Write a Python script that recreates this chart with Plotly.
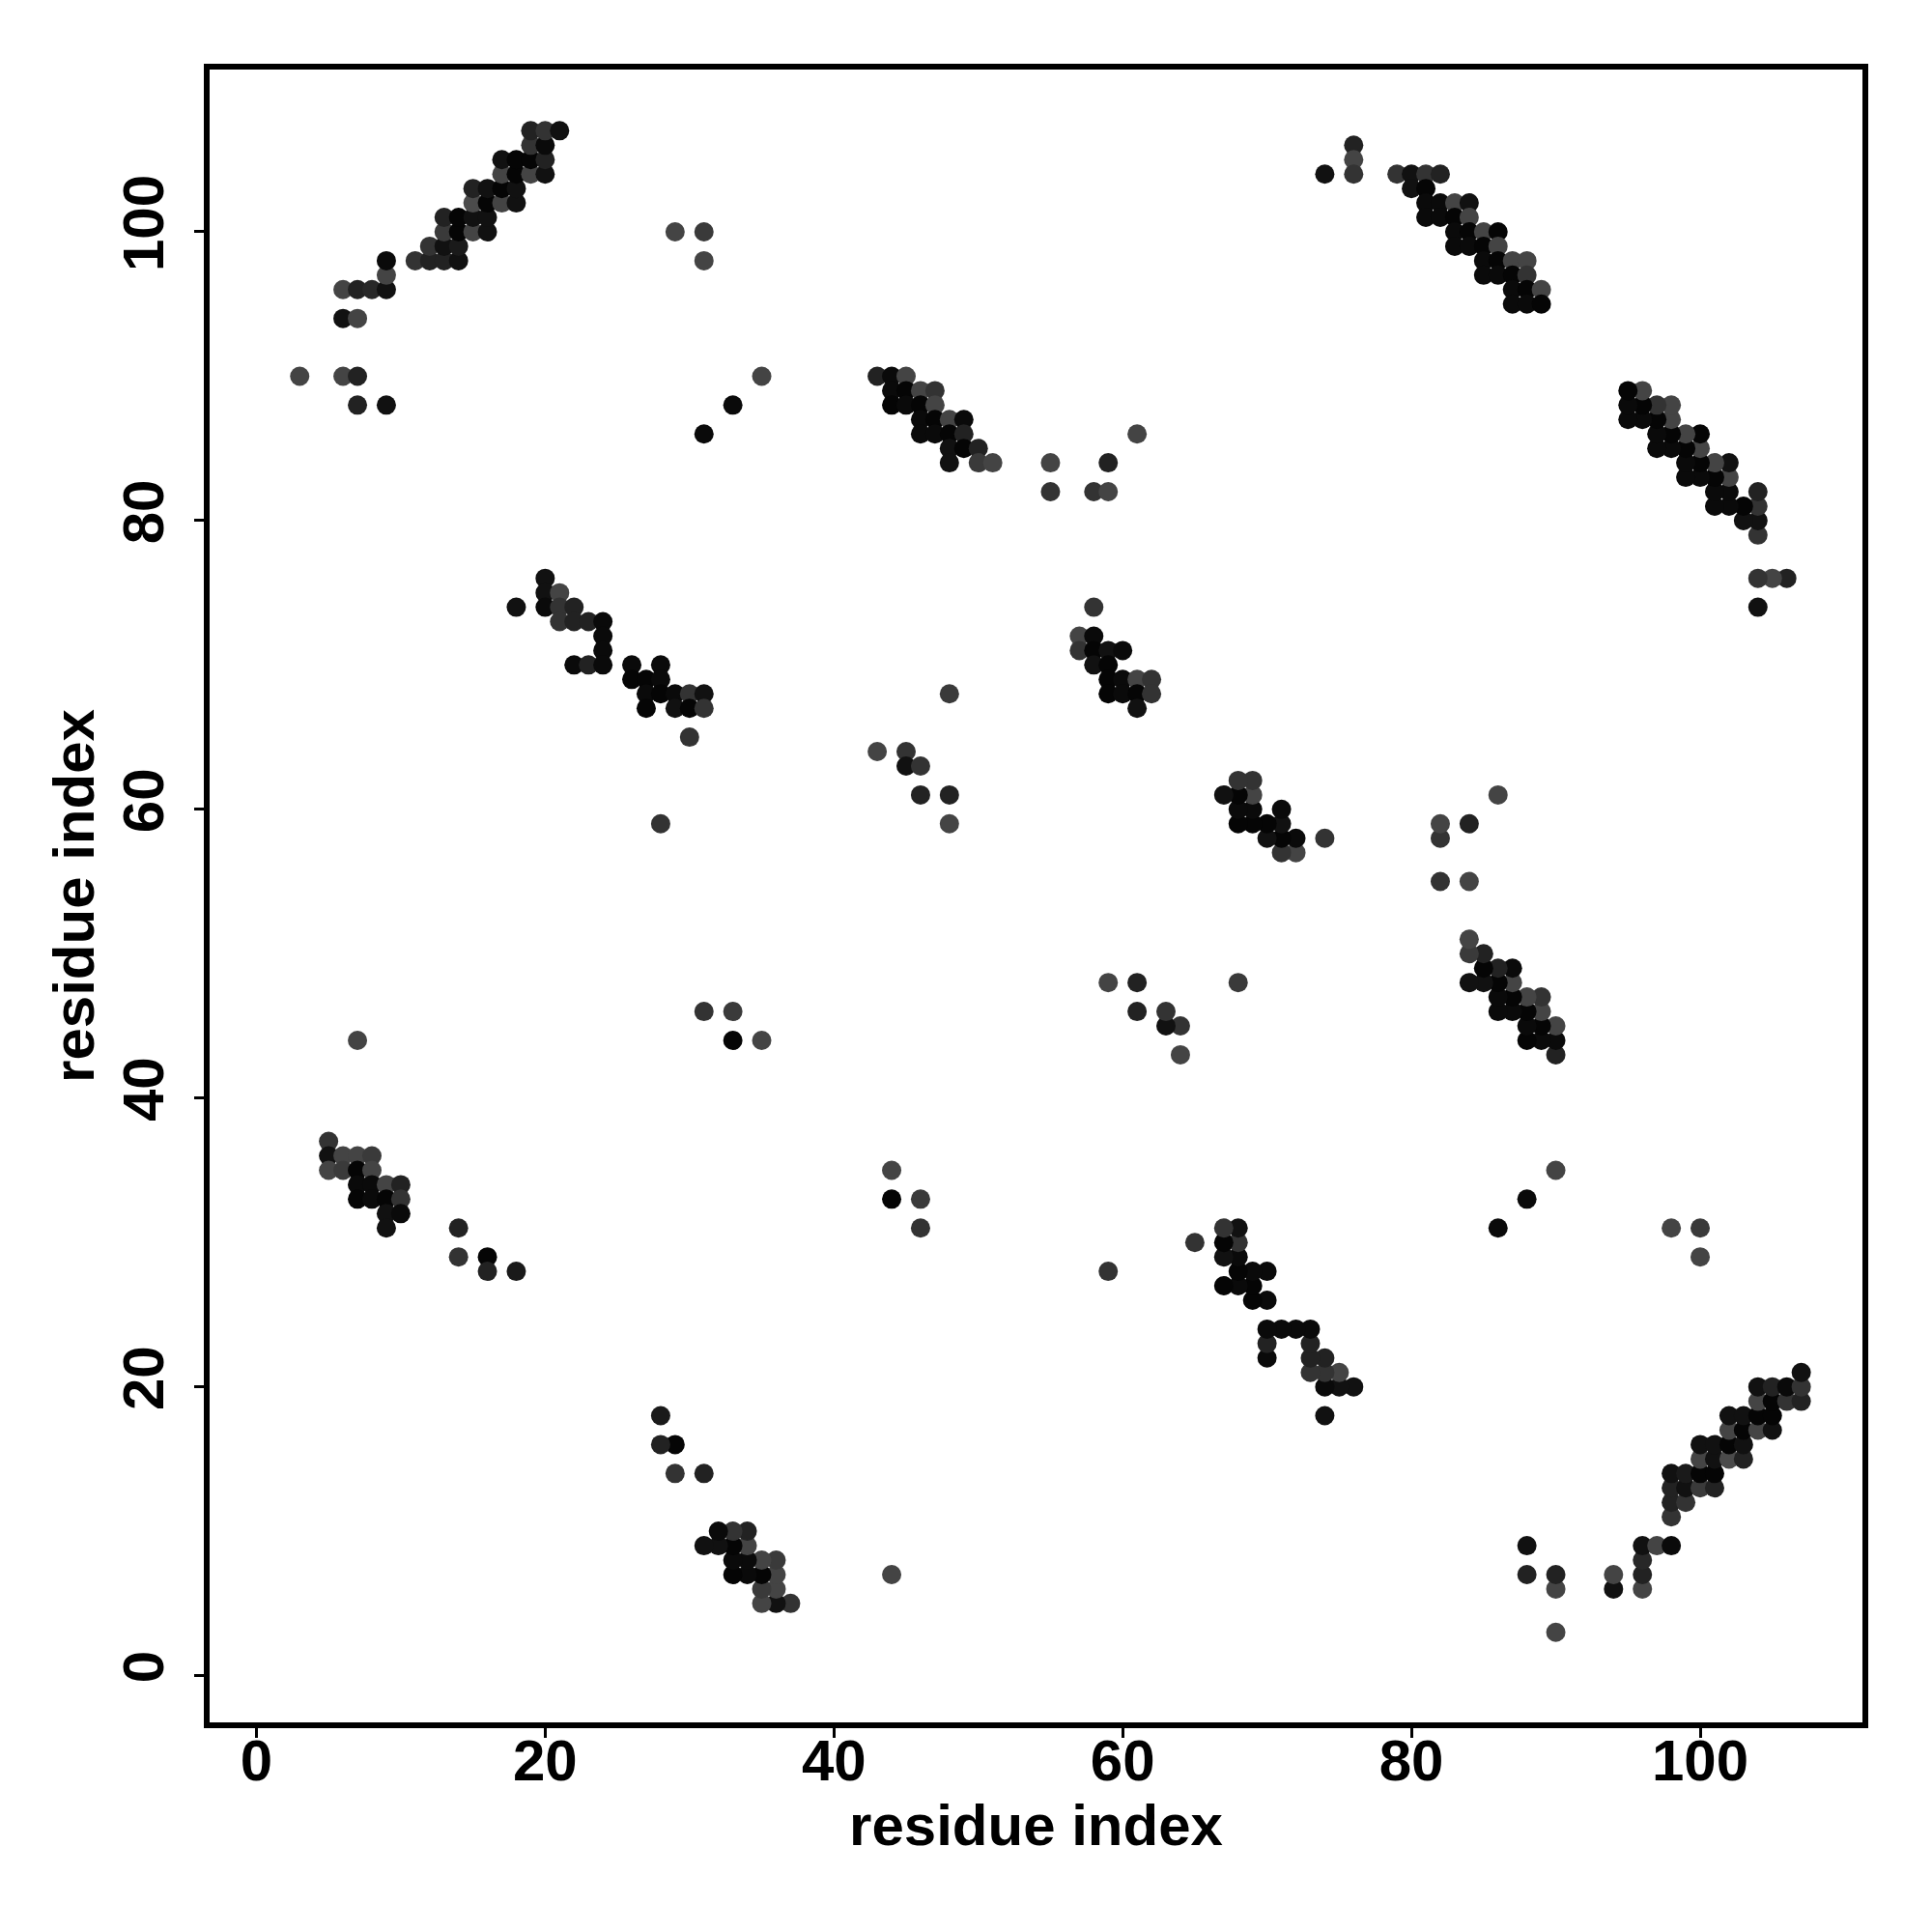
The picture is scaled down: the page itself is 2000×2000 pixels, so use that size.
import plotly.graph_objects as go

res_i = [3, 6, 7, 7, 9, 6, 7, 6, 7, 8, 9, 9, 9, 11, 12, 13, 14, 12, 13, 14, 13, 14, 15, 16,
         13, 14, 15, 16, 15, 16, 17, 18, 15, 16, 17, 18, 17, 18, 19, 20, 17, 18, 19, 20,
         19, 20, 19, 20, 21,
         29, 31, 31, 35, 33, 31,
         43, 44, 45, 44, 45, 46, 47, 44, 45, 46, 47, 46, 47, 48, 49, 46, 47, 48, 49, 48, 49, 50,
         48, 50, 51, 55, 55, 58, 59, 59, 61,
         18, 20, 20, 21, 20, 21, 22, 21, 22, 23, 24, 24, 24, 22, 23, 24, 26, 28, 26, 27, 28,
         27, 28, 29, 30, 31, 27, 29, 30, 31, 30, 28,
         58, 57, 58, 57, 58, 59, 60, 58, 59, 59, 60, 61, 62, 59, 60, 61, 62, 61, 48, 43, 45,
         45, 46, 46, 48, 48,
         7, 31, 33, 33, 35, 5, 5, 6, 7, 8, 5, 6, 7, 8, 7, 8, 9, 10, 7, 8, 9, 10, 9, 10, 9,
         14, 14, 16, 16, 18,
         74, 76, 76, 76, 79, 80, 81, 82, 80, 81, 81, 82, 83, 84, 81, 82, 83, 84, 83, 84, 85,
         86, 83, 84, 85, 86, 85, 86, 87, 88, 85, 86, 87, 88, 87, 88, 89, 87, 88, 89]
res_j = [90, 90, 90, 88, 88, 94, 94, 96, 96, 96, 96, 97, 98, 98, 98, 98, 98, 99, 99, 99, 100, 100, 100, 100,
         101, 101, 101, 101, 102, 102, 102, 102, 103, 103, 103, 103, 104, 104, 104, 104, 105, 105, 105, 105,
         106, 106, 107, 107, 107,
         100, 100, 98, 90, 88, 86,
         90, 90, 90, 89, 89, 89, 89, 88, 88, 88, 88, 87, 87, 87, 87, 86, 86, 86, 86, 85, 85, 85,
         84, 84, 84, 84, 82, 82, 82, 84, 86,
         74, 76, 75, 75, 74, 74, 74, 73, 73, 73, 73, 72, 71, 70, 70, 70, 70, 70, 69, 69, 69,
         68, 68, 68, 68, 68, 67, 67, 67, 67, 65, 59,
         74, 72, 72, 71, 71, 71, 71, 70, 70, 69, 69, 69, 69, 68, 68, 68, 68, 67, 68, 64, 64,
         63, 63, 61, 61, 59,
         44, 46, 46, 44, 44, 37, 36, 36, 36, 36, 35, 35, 35, 35, 34, 34, 34, 34, 33, 33, 33, 33, 32, 32, 31,
         31, 29, 29, 28, 28,
         104, 106, 105, 104, 104, 104, 104, 104, 103, 103, 102, 102, 102, 102, 101, 101, 101, 101, 100, 100, 100,
         100, 99, 99, 99, 99, 98, 98, 98, 98, 97, 97, 97, 97, 96, 96, 96, 95, 95, 95]
# grey level of each contact (0 = black, larger = lighter)
shade = [68, 68, 34, 34, 17, 17, 68, 68, 34, 40, 17, 68, 10, 51, 34, 34, 17, 51, 17, 26, 58, 5, 68, 17,
         34, 5, 17, 17, 75, 5, 68, 17, 34, 17, 5, 17, 68, 5, 68, 17, 17, 5, 5, 34,
         51, 10, 34, 51, 17,
         68, 58, 68, 68, 10, 10,
         34, 10, 68, 10, 5, 68, 51, 5, 10, 5, 68, 10, 5, 68, 10, 10, 10, 5, 34, 17, 5, 34,
         17, 58, 68, 68, 51, 51, 68, 34, 68,
         17, 17, 17, 68, 10, 51, 34, 51, 34, 34, 10, 10, 10, 10, 34, 10, 10, 10, 5, 5, 10,
         10, 5, 10, 51, 17, 5, 17, 5, 51, 51, 51,
         51, 68, 10, 51, 5, 17, 10, 17, 5, 5, 10, 68, 51, 5, 10, 5, 51, 17, 58, 68, 51,
         17, 51, 34, 34, 68,
         68, 51, 58, 5, 68, 51, 17, 68, 68, 58, 68, 58, 5, 68, 10, 10, 68, 34, 5, 10, 5, 51, 17, 10, 17,
         34, 51, 5, 34, 26,
         17, 34, 68, 51, 51, 17, 51, 34, 17, 5, 10, 10, 68, 17, 10, 10, 5, 68, 10, 5, 68,
         5, 10, 10, 5, 68, 10, 5, 68, 68, 10, 10, 5, 51, 10, 5, 68, 10, 10, 5]

tick_vals = [0, 20, 40, 60, 80, 100]
axis_title = "residue index"

xs = res_i + res_j
ys = res_j + res_i
cols = [f"rgb({s},{s},{s})" for s in shade + shade]

fig = go.Figure(go.Scatter(
    x=xs, y=ys, mode="markers",
    marker=dict(size=20, color=cols, line=dict(width=0)),
    hoverinfo="x+y",
))

font_family = "Liberation Sans, Arial, Helvetica, sans-serif"
common = dict(
    range=[-3.24, 111.24], showgrid=False, zeroline=False,
    showline=True, mirror=True, linecolor="black", linewidth=5.5,
    ticks="outside", ticklen=10, tickwidth=3, tickcolor="black",
    tickvals=tick_vals, ticktext=[str(v) for v in tick_vals],
    tickfont=dict(family=font_family, size=60, color="black", weight="bold"),
)

fig.update_layout(
    width=1984, height=1984,
    margin=dict(l=209, r=64, t=64, b=209),
    paper_bgcolor="white", plot_bgcolor="white",
    showlegend=False,
    xaxis=dict(**common, ticklabelstandoff=-28,
               title=dict(text=axis_title, standoff=14,
                          font=dict(family=font_family, size=60, color="black", weight="bold"))),
    yaxis=dict(**common, tickangle=-90, ticklabelstandoff=8,
               title=dict(text=axis_title, standoff=0,
                          font=dict(family=font_family, size=60, color="black", weight="bold"))),
)

fig.write_html("out.html")
